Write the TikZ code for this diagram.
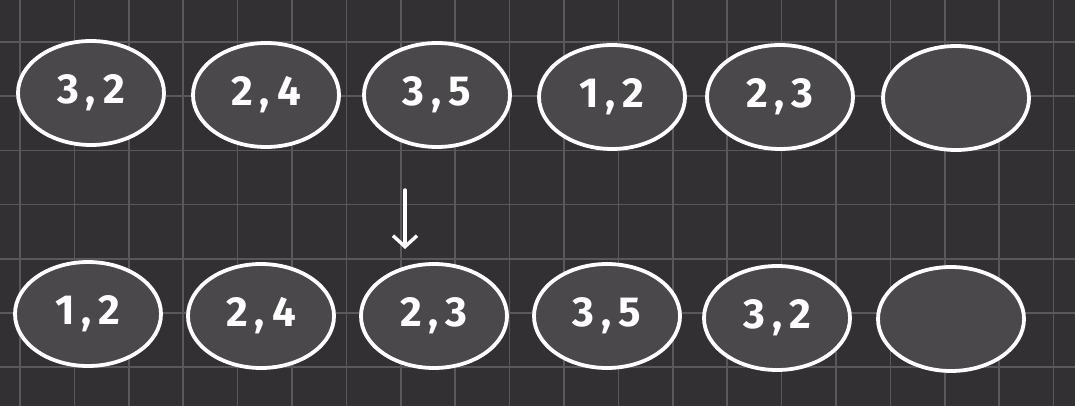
\documentclass[tikz,border=0pt]{standalone}
\usepackage{fontspec}
\setmainfont{Fira Sans}
\usepackage{tikz}
\usetikzlibrary{shapes.geometric,arrows.meta}
\definecolor{boardbg}{HTML}{323032}
\definecolor{gridline}{HTML}{5A585C}
\definecolor{cellfill}{HTML}{4A484B}
\tikzstyle{cell} = [ellipse, draw=white, fill=cellfill, line width=3.8pt, minimum width=146pt, minimum height=104pt, text=white, font=\fontsize{42}{46}\selectfont\bfseries]
\newcommand{\pr}[2]{#1{\kern7pt},{\kern7pt}#2}

\begin{document}
\begin{tikzpicture}[x=1pt,y=-1pt]
	\fill[boardbg] (0,0) rectangle (1075,406); % board
	\useasboundingbox (0,0) rectangle (1075,406);
	\foreach \gx in {0,...,19} \draw[gridline,line width=1.7pt] (20+54.4*\gx,0) -- (20+54.4*\gx,406);
	\foreach \gy in {0,...,6} \draw[gridline,line width=1.7pt] (0,42+54.2*\gy) -- (1075,42+54.2*\gy);
	% before
	\node[cell] (t1) at (91,93) {\pr{3}{2}};
	\node[cell] (t2) at (266,95) {\pr{2}{4}};
	\node[cell] (t3) at (437,95) {\pr{3}{5}};
	\node[cell] (t4) at (612,97) {\pr{1}{2}};
	\node[cell] (t5) at (780,97) {\pr{2}{3}};
	\node[cell] (t6) at (956,98) {};
	% after
	\node[cell] (b1) at (88,314) {\pr{1}{2}};
	\node[cell] (b2) at (261,316) {\pr{2}{4}};
	\node[cell] (b3) at (434,316) {\pr{2}{3}};
	\node[cell] (b4) at (607,316) {\pr{3}{5}};
	\node[cell] (b5) at (777,318) {\pr{3}{2}};
	\node[cell] (b6) at (951,319) {};
	\coordinate (arrtop) at (405,190);
	\coordinate (arrbot) at (405,249);
	\draw[white,line width=3.4pt,line cap=round,-{Straight Barb[length=11pt,width=24pt]}] (arrtop) -- (arrbot);
\end{tikzpicture}
\end{document}
